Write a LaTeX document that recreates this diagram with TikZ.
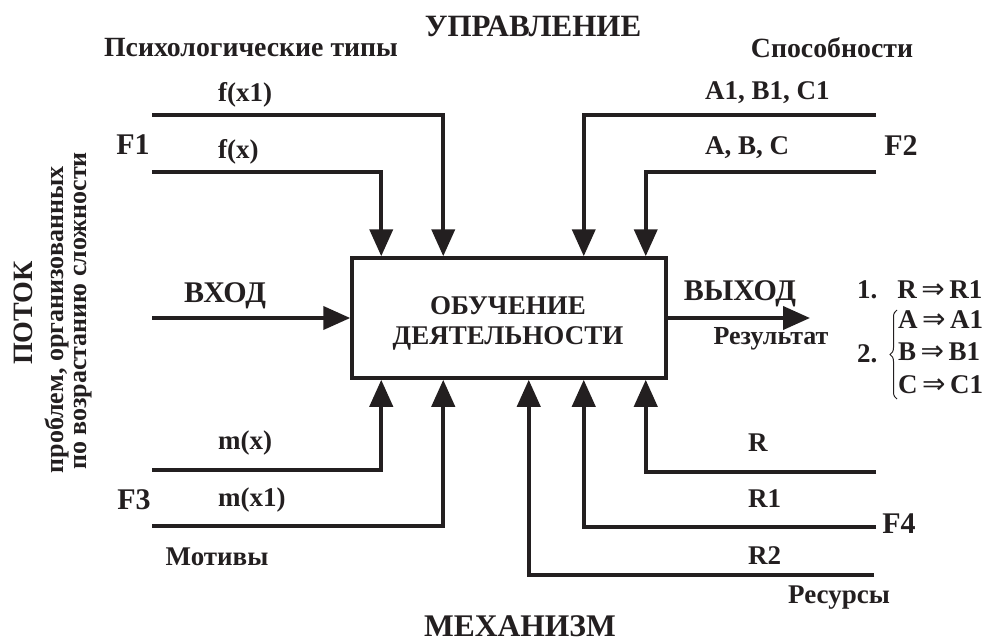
\documentclass[tikz,border=0pt]{standalone}
\usepackage{fontspec}
\setmainfont{Liberation Serif}
\newfontfamily\arrowfont{DejaVu Sans}
\usetikzlibrary{arrows.meta,decorations.pathreplacing}
\definecolor{ink}{RGB}{35,31,32}
\newcommand\implarrow{{\arrowfont\mdseries\fontsize{28}{30}\selectfont ⇒}}

\begin{document}
\begin{tikzpicture}[x=1pt,y=-1pt,
  every node/.style={text=ink, inner sep=0pt},
  lbl/.style={font=\bfseries\fontsize{27}{30}\selectfont},
  toplbl/.style={font=\bfseries\fontsize{27.8}{30}\selectfont},
  small/.style={font=\bfseries\fontsize{26}{29}\selectfont},
  head/.style={font=\bfseries\fontsize{30}{33}\selectfont},
  side/.style={font=\bfseries\fontsize{26}{29}\selectfont, rotate=90},
  flow/.style={draw=ink, line width=4pt},
  tip/.style={-{Triangle[length=27pt,width=23pt]}},
]
\useasboundingbox (0,0) rectangle (994,643);

% central activity block
\node[draw=ink, line width=3.5pt, minimum width=314pt, minimum height=120pt] (box) at (509,318) {};
\node[lbl, align=center] (boxtext) at (508,323) {ОБУЧЕНИЕ\\ДЕЯТЕЛЬНОСТИ};

% section titles
\node[head, font=\bfseries\fontsize{31}{34}\selectfont] (ctl) at (533,26) {УПРАВЛЕНИЕ};
\node[head, font=\bfseries\fontsize{31.5}{35}\selectfont] (mech) at (520,626) {МЕХАНИЗМ};
\node[toplbl] (psy) at (251,48) {Психологические типы};
\node[toplbl] (abil) at (832,48) {Способности};
\node[lbl] (motiv) at (217,557) {Мотивы};
\node[lbl] (res) at (839,598) {Ресурсы};

% factor labels
\node[head] (F1) at (133,145) {F1};
\node[head] (F2) at (901,146) {F2};
\node[head] (F3) at (134,500) {F3};
\node[head] (F4) at (899,524) {F4};

% control inputs (top)
\coordinate (c1) at (152,115);
\coordinate (c2) at (152,172);
\coordinate (c3) at (876,115);
\coordinate (c4) at (876,172);
\draw[flow,tip] (c1) -| ([xshift=93pt]box.north west);
\draw[flow,tip] (c2) -| ([xshift=31pt]box.north west);
\draw[flow,tip] (c3) -| ([xshift=-84pt]box.north east);
\draw[flow,tip] (c4) -| ([xshift=-22pt]box.north east);
\node[lbl, anchor=west] (fx1) at (218,95) {f(x1)};
\node[lbl, anchor=west] (fx) at (218,152) {f(x)};
\node[lbl, anchor=west] (abc1) at (705,93) {A1, B1, C1};
\node[lbl, anchor=west] (abc) at (705,148) {A, B, C};

% mechanism inputs (bottom)
\coordinate (m1) at (152,470);
\coordinate (m2) at (152,526);
\coordinate (r0) at (876,472);
\coordinate (r1) at (876,527);
\coordinate (r2) at (874,575);
\draw[flow,tip] (m1) -| ([xshift=31pt]box.south west);
\draw[flow,tip] (m2) -| ([xshift=93pt]box.south west);
\draw[flow,tip] (r0) -| ([xshift=-22pt]box.south east);
\draw[flow,tip] (r1) -| ([xshift=-84pt]box.south east);
\draw[flow,tip] (r2) -| ([xshift=-139pt]box.south east);
\node[lbl, anchor=west] (mx) at (218,443) {m(x)};
\node[lbl, anchor=west] (mx1) at (218,500) {m(x1)};
\node[lbl, anchor=west] (R) at (748,443) {R};
\node[lbl, anchor=west] (R1) at (748,499) {R1};
\node[lbl, anchor=west] (R2) at (748,556) {R2};

% input and output
\coordinate (in) at (152,318);
\coordinate (out) at (810,318);
\draw[flow,tip] (in) -- (box.west);
\draw[flow,tip] (box.east) -- (out);
\node[head] (inl) at (225,296) {ВХОД};
\node[head] (outl) at (740,294) {ВЫХОД};
\node[small] (resl) at (771,339) {Результат};

% problem flow (left, rotated)
\node[side, font=\bfseries\fontsize{28}{31}\selectfont] (flow) at (23,313) {ПОТОК};
\node[side] (fl2) at (57,320) {проблем, организованных};
\node[side] (fl3) at (83,311) {по возрастанию сложности};

% results
\node[lbl, anchor=west] (res1) at (857,290) {1.\hspace{20pt}R\,\implarrow\,R1};
\node[lbl, anchor=west] (two) at (857,354) {2.};
\node[lbl, anchor=west] (ra) at (898,320) {A\,\implarrow\,A1};
\node[lbl, anchor=west] (rb) at (898,352) {B\,\implarrow\,B1};
\node[lbl, anchor=west] (rc) at (898,385) {C\,\implarrow\,C1};
\draw[ink, line width=1pt, decorate, decoration={brace, amplitude=7pt}] (897,399) -- (897,310);
\end{tikzpicture}
\end{document}
